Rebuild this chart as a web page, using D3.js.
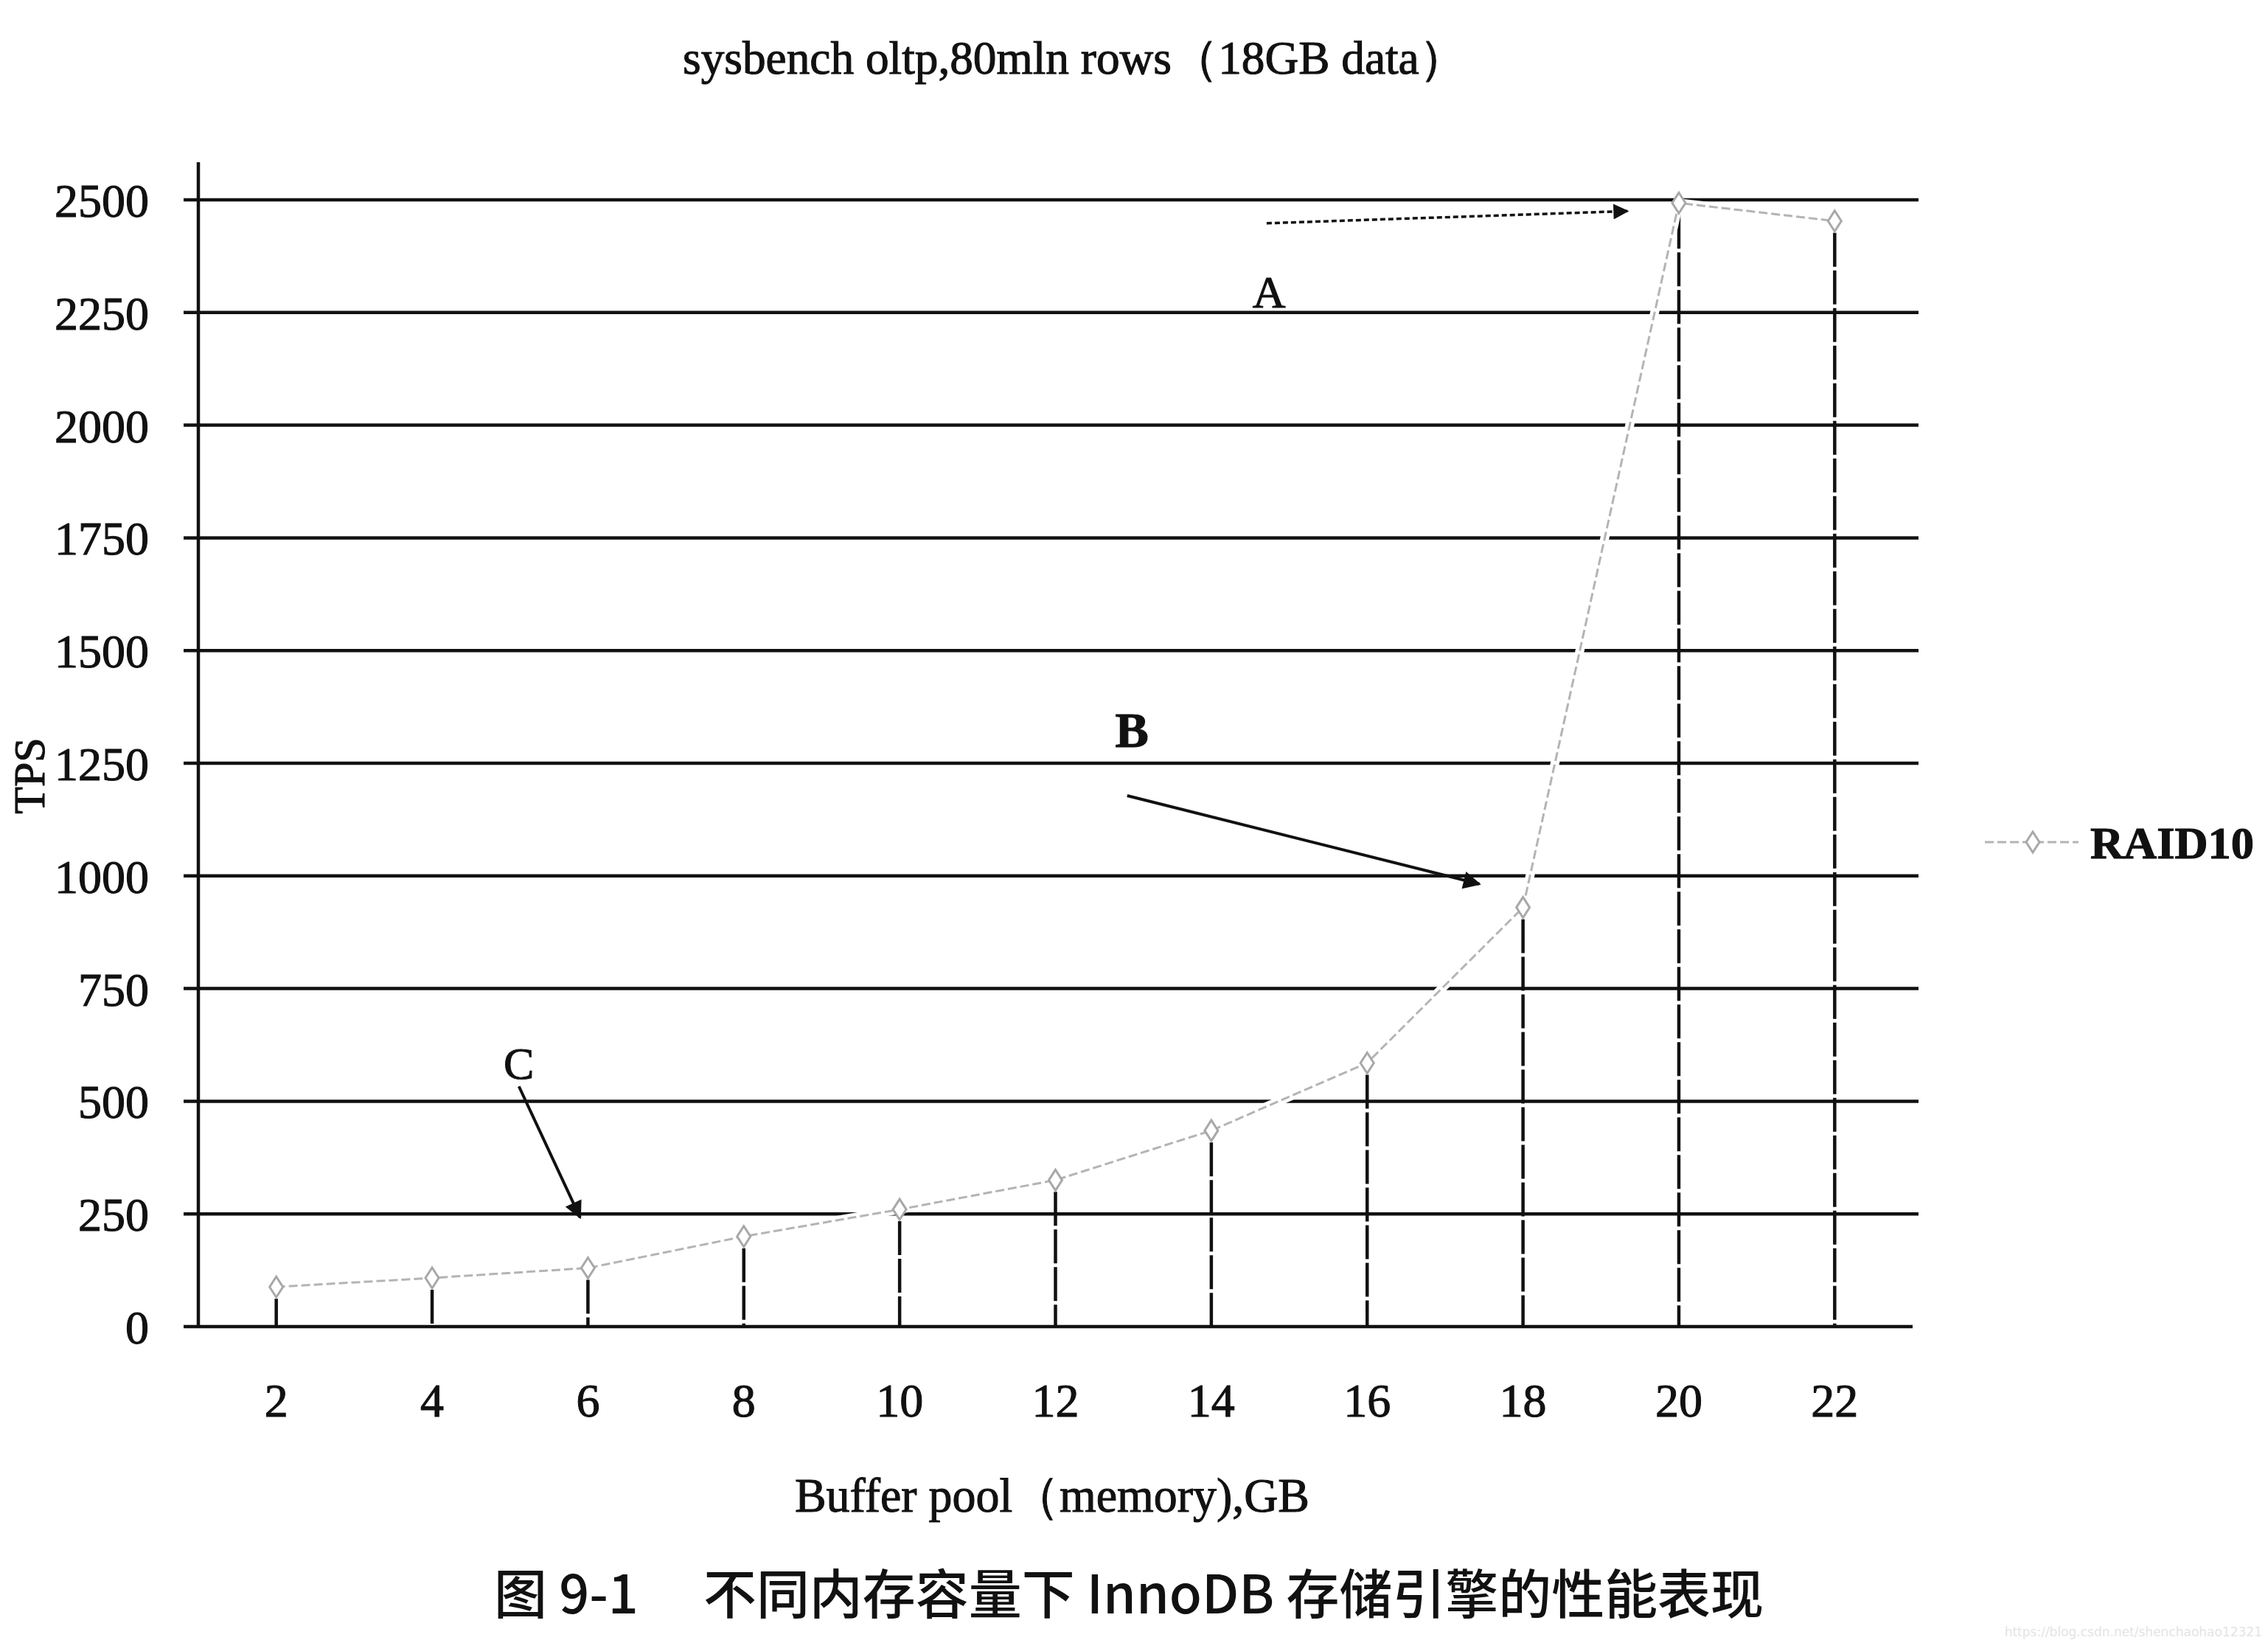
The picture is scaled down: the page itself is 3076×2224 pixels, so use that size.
<!DOCTYPE html>
<html><head><meta charset="utf-8">
<script src="https://cdn.jsdelivr.net/npm/d3@7"></script>
<style>html,body{margin:0;padding:0;background:#fff;}svg{display:block;}</style>
</head><body>
<script>
// ---- data ----
const categories = [2, 4, 6, 8, 10, 12, 14, 16, 18, 20, 22];
const raid10 = [88, 108, 130, 200, 260, 325, 435, 585, 930, 2493, 2453];
const yTicks = [0, 250, 500, 750, 1000, 1250, 1500, 1750, 2000, 2250, 2500];
const seriesName = "RAID10";
const titleText = "sysbench oltp,80mln rows（18GB data）";
const xLabelText = "Buffer pool（memory),GB";
const yLabelText = "TPS";
const captionText = "图 9-1\u3000 不同内存容量下 InnoDB 存储引擎的性能表现";
const watermarkText = "https://blog.csdn.net/shenchaohao12321";
// annotation labels and arrows in data space (category index, TPS)
const annLabels = ["A", "B", "C"];
const annLabelPos = [[6.37, 2295], [5.49, 1324], [1.557, 584]];
const annArrowFrom = [[6.355, 2448], [5.46, 1178], [1.557, 533]];
const annArrowTo = [[8.67, 2475], [7.72, 982], [1.95, 242]];

// ---- layout ----
const W = 3076, H = 2224;
const axisX = 269, plotRight = 2594, gridRight = 2602, tickLeft = 249;
const yTop = 220;
const ink = "#111";

const svg = d3.select("body").append("svg").attr("width", W).attr("height", H)
  .style("font-family", "'Liberation Serif','Times New Roman',serif");

const x = d3.scaleBand().domain(categories).range([axisX, plotRight]).padding(0);
const y = d3.scaleLinear().domain([0, 2500]).range([1799, 271]);
const xc = d => x(d) + x.bandwidth() / 2;
const xi = d3.scaleLinear().domain([0, categories.length - 1])
  .range([xc(categories[0]), xc(categories[categories.length - 1])]);

const defs = svg.append("defs");
defs.append("marker").attr("id", "ah").attr("viewBox", "0 0 10 10")
  .attr("refX", 9).attr("refY", 5).attr("markerWidth", 8).attr("markerHeight", 6)
  .attr("markerUnits", "strokeWidth").attr("orient", "auto")
  .append("path").attr("d", "M0,0 L10,5 L0,10 Z").attr("fill", ink);

// text helper: slight stroke to mimic scanned print weight
const inked = sel => sel.attr("fill", ink).attr("stroke", ink).attr("stroke-width", 1.1);

// gridlines + y ticks
svg.append("g").selectAll("line").data(yTicks).join("line")
  .attr("x1", tickLeft).attr("x2", d => d === 0 ? plotRight : gridRight)
  .attr("y1", d => y(d)).attr("y2", d => y(d))
  .attr("stroke", ink).attr("stroke-width", 4.5);

// y axis line
svg.append("line").attr("x1", axisX).attr("x2", axisX).attr("y1", yTop).attr("y2", y(0))
  .attr("stroke", ink).attr("stroke-width", 4.5);

// y tick labels
svg.append("g").selectAll("text").data(yTicks).join("text")
  .attr("x", 202).attr("y", d => y(d)).attr("dy", "0.36em")
  .attr("text-anchor", "end").attr("font-size", 64)
  .call(inked).text(d => d);

// x tick labels
svg.append("g").selectAll("text").data(categories).join("text")
  .attr("x", d => xc(d)).attr("y", 1921)
  .attr("text-anchor", "middle").attr("font-size", 64)
  .call(inked).text(d => d);

// drop lines
svg.append("g").selectAll("line").data(categories).join("line")
  .attr("x1", d => xc(d)).attr("x2", d => xc(d))
  .attr("y1", (d, i) => y(raid10[i]) + 16).attr("y2", y(0))
  .attr("stroke", ink).attr("stroke-width", 4.5)
  .attr("stroke-dasharray", "46 5");

// series line
const lineGen = d3.line().x((d, i) => xc(categories[i])).y(d => y(d)).curve(d3.curveLinear);
svg.append("path").attr("d", lineGen(raid10)).attr("fill", "none")
  .attr("stroke", "#fff").attr("stroke-width", 12);
svg.append("path").attr("d", lineGen(raid10)).attr("fill", "none")
  .attr("stroke", "#b4b4b4").attr("stroke-width", 3).attr("stroke-dasharray", "12 5");

// markers
const diamond = "M0,-14 L9,0 L0,14 L-9,0 Z";
svg.append("g").selectAll("path").data(raid10).join("path")
  .attr("transform", (d, i) => `translate(${xc(categories[i])},${y(d)})`)
  .attr("d", diamond).attr("fill", "#fff").attr("stroke", "#a8a8a8").attr("stroke-width", 3);

// annotations
annLabels.forEach((lab, k) => {
  svg.append("text").attr("x", xi(annLabelPos[k][0])).attr("y", y(annLabelPos[k][1]))
    .attr("dy", "0.34em").attr("text-anchor", "middle")
    .attr("font-size", lab === "B" ? 68 : 62).attr("font-weight", lab === "B" ? "bold" : "normal")
    .call(inked).text(lab);
  svg.append("line")
    .attr("x1", xi(annArrowFrom[k][0])).attr("y1", y(annArrowFrom[k][1]))
    .attr("x2", xi(annArrowTo[k][0])).attr("y2", y(annArrowTo[k][1]))
    .attr("stroke", ink).attr("stroke-width", lab === "A" ? 3.5 : 4)
    .attr("stroke-dasharray", lab === "A" ? "7 4" : null)
    .attr("marker-end", "url(#ah)");
});

// title
svg.append("text").attr("x", 926).attr("y", 100).attr("font-size", 64)
  .attr("textLength", 1062).attr("lengthAdjust", "spacingAndGlyphs")
  .call(inked).text(titleText);

// axis labels
svg.append("text").attr("x", 1078).attr("y", 2050).attr("font-size", 66)
  .attr("textLength", 698).attr("lengthAdjust", "spacingAndGlyphs")
  .call(inked).text(xLabelText);
svg.append("text").attr("transform", "translate(60,1052) rotate(-90)")
  .attr("text-anchor", "middle").attr("font-size", 60)
  .call(inked).text(yLabelText);

// legend
const lgY = 1142;
svg.append("line").attr("x1", 2692).attr("x2", 2819).attr("y1", lgY).attr("y2", lgY)
  .attr("stroke", "#b4b4b4").attr("stroke-width", 3).attr("stroke-dasharray", "12 5");
svg.append("path").attr("transform", `translate(2757,${lgY})`).attr("d", diamond)
  .attr("fill", "#fff").attr("stroke", "#a8a8a8").attr("stroke-width", 3);
svg.append("text").attr("x", 2835).attr("y", lgY).attr("dy", "0.35em")
  .attr("font-size", 62).attr("font-weight", "bold")
  .attr("textLength", 222).attr("lengthAdjust", "spacingAndGlyphs")
  .call(inked).text(seriesName);

// caption
svg.append("text").attr("x", 670).attr("y", 2188)
  .style("font-family", "'Noto Sans CJK SC',sans-serif").attr("font-weight", 500)
  .attr("font-size", 72).attr("fill", ink)
  .attr("textLength", 1722).attr("lengthAdjust", "spacingAndGlyphs").text(captionText);

// faint source watermark
svg.append("text").attr("x", 3068).attr("y", 2219).attr("text-anchor", "end")
  .style("font-family", "'DejaVu Sans',sans-serif").attr("font-size", 17).attr("fill", "#e4e4e4")
  .text(watermarkText);
</script>
</body></html>
